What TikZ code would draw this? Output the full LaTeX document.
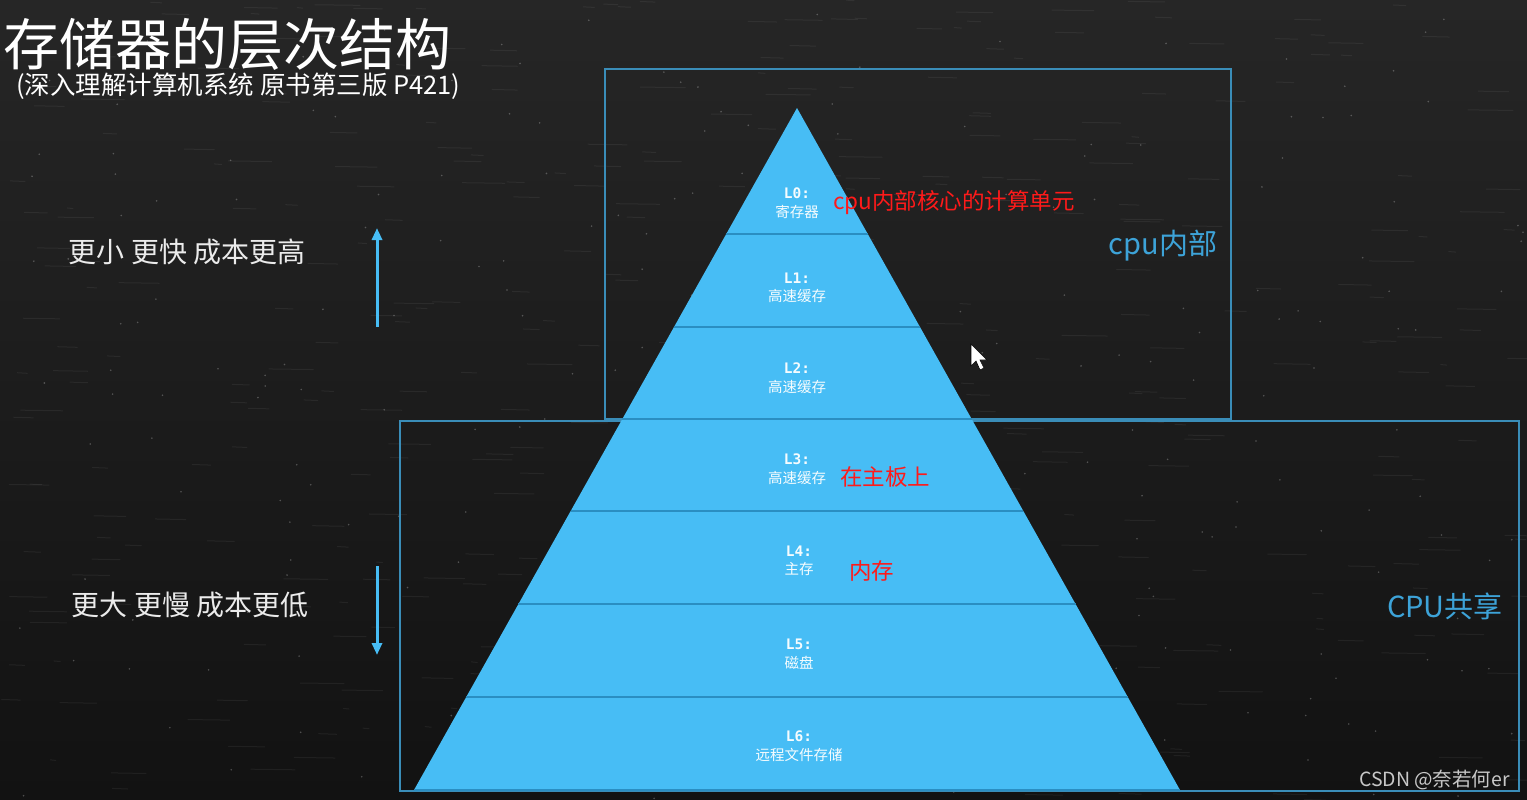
\documentclass[tikz,border=0pt]{standalone}
\usepackage{fontspec}
\setmainfont{Noto Sans CJK SC}
\newfontfamily\monof{DejaVu Sans Mono}
\usetikzlibrary{calc,arrows.meta}
\definecolor{bgtop}{HTML}{262626}
\definecolor{bgbot}{HTML}{121212}
\definecolor{pyr}{HTML}{47BDF5}
\definecolor{sepc}{HTML}{2A8EC2}
\definecolor{boxc}{HTML}{3A8DB8}
\definecolor{lblc}{HTML}{3DA3D8}
\definecolor{redc}{HTML}{FF1A1A}
\definecolor{wm}{HTML}{C8C8C8}
\tikzset{
  fs/.style={font=\fontsize{#1}{#1}\selectfont},
  title/.style={text=white, inner sep=0pt},
  side/.style={text=white!92!black, inner sep=0pt, fs=28},
  lvl/.style={text=white!95!pyr, align=center, inner sep=0pt, font=\fontsize{14.5}{18.5}\selectfont},
  note/.style={text=redc, inner sep=0pt, fs=22.5},
  region/.style={text=lblc, inner sep=0pt, fs=29},
  regbox/.style={draw=boxc, line width=1.1pt},
  seprule/.style={draw=sepc, line width=1.6pt},
  dirarrow/.style={draw=pyr, line width=3pt, -{Triangle[length=12pt,width=10pt]}}
}
\begin{document}
\begin{tikzpicture}[x=1pt,y=-1pt]
\useasboundingbox (0,0) rectangle (1527,800);
% background
\shade[top color=bgtop, bottom color=bgbot] (0,0) rectangle (1527,800);
\pgfmathsetseed{11}
\foreach \i in {1,...,400}{
  \pgfmathsetmacro\xx{rnd*1527}
  \pgfmathsetmacro\yy{rnd*800}
  \pgfmathsetmacro\ll{6+rnd*40}
  \draw[white, opacity=0.06, line width=1pt] (\xx,\yy) -- ++(\ll,0.6);
}
\foreach \i in {1,...,250}{
  \pgfmathsetmacro\xx{rnd*1527}
  \pgfmathsetmacro\yy{rnd*800}
  \fill[white, opacity=0.25] (\xx,\yy) circle (0.9);
}

% region boxes
\draw[regbox] (605,69) rectangle (1231,419);
\draw[regbox] (400,421) rectangle (1519,791);

% pyramid
\coordinate (apex) at (797,108);
\coordinate (bl) at (414,790);
\coordinate (br) at (1180,790);
\fill[pyr] (apex) -- (bl) -- (br) -- cycle;
\foreach \yy/\nm in {234/a,327/b,419/c,511/d,604/e,697/f}{
  \pgfmathsetmacro\tt{(\yy-108)/682}
  \coordinate (sl\nm) at ($(apex)!\tt!(bl)$);
  \coordinate (sr\nm) at ($(apex)!\tt!(br)$);
  \draw[seprule] (sl\nm) -- (sr\nm);
}
\draw[seprule] (bl) -- (br);

% level labels
\node[lvl] (l0) at (797,203) {{\monof\bfseries L0:}\\寄存器};
\node[lvl] (l1) at (797,288) {{\monof\bfseries L1:}\\高速缓存};
\node[lvl] (l2) at (797,378) {{\monof\bfseries L2:}\\高速缓存};
\node[lvl] (l3) at (797,469) {{\monof\bfseries L3:}\\高速缓存};
\node[lvl] (l4) at (799,561) {{\monof\bfseries L4:}\\主存};
\node[lvl] (l5) at (799,654) {{\monof\bfseries L5:}\\磁盘};
\node[lvl] (l6) at (799,746) {{\monof\bfseries L6:}\\远程文件存储};

% red notes
\node[note, anchor=west] (n0) at (833,203) {cpu内部核心的计算单元};
\node[note, anchor=west] (n3) at (840,477) {在主板上};
\node[note, anchor=west] (n4) at (849,571) {内存};

% region labels
\node[region] (rin) at (1163,246) {cpu内部};
\node[region] (rsh) at (1445,606) {CPU共享};

% titles
\node[title, fs=56, anchor=west] (t1) at (3,44) {存储器的层次结构};
\node[title, fs=25.5, anchor=west] (t2) at (16,86) {(深入理解计算机系统 原书第三版 P421)};

% side labels and arrows
\node[side] (up) at (187,252) {更小 更快 成本更高};
\node[side] (dn) at (190,605) {更大 更慢 成本更低};
\coordinate (ua) at (377,327);
\coordinate (ub) at (377,228);
\coordinate (da) at (377,566);
\coordinate (db) at (377,655);
\draw[dirarrow] (ua) -- (ub);
\draw[dirarrow] (da) -- (db);

% mouse cursor
\filldraw[fill=white, draw=black, line width=0.6pt] (971,344) -- (971,366) -- (976,361) -- (980,370) -- (984,368) -- (980,360) -- (987,360) -- cycle;

% watermark
\node[text=wm, inner sep=0pt, fs=19.5, anchor=east] (wmk) at (1510,780) {CSDN @奈若何er};
\end{tikzpicture}
\end{document}
